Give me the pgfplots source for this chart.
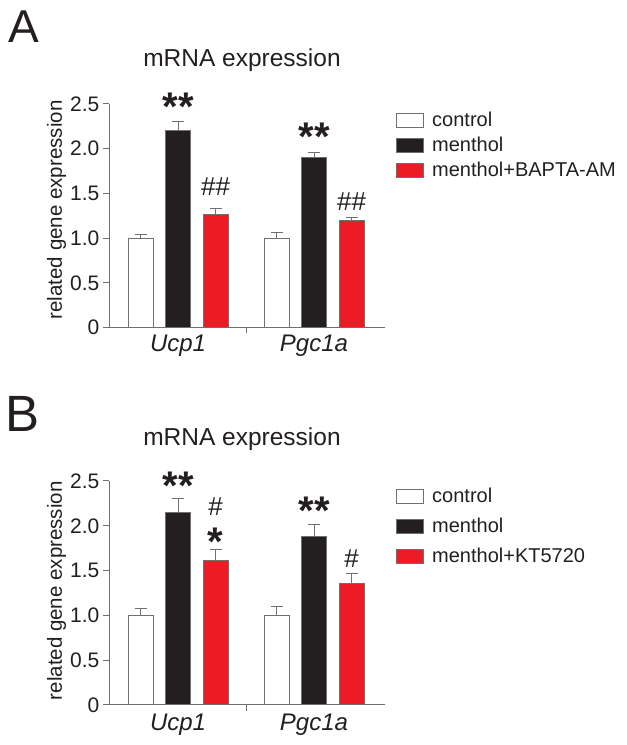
\documentclass[border=0pt]{standalone}
\usepackage{fontspec}
\setmainfont{Liberation Sans}
\usepackage{pgfplots}
\pgfplotsset{compat=1.18}
\definecolor{ink}{HTML}{231F20}
\definecolor{axgray}{HTML}{707070}
\definecolor{barred}{HTML}{ED1C24}
\definecolor{barblack}{HTML}{231F20}

\pgfplotsset{
  panel/.style={
    scale only axis, width=275.5pt,
    xmin=-0.504, xmax=1.522, ymin=0, ymax=2.5,
    axis x line=bottom, axis y line=left,
    axis line style={axgray, line width=1pt, -},
    ytick={0,0.5,1,1.5,2,2.5}, yticklabels={0,0.5,1.0,1.5,2.0,2.5},
    xtick={0.5}, xticklabels={},
    tick align=outside, major tick length=6pt,
    tick style={axgray, line width=1pt},
    /pgf/number format/assume math mode=true,
    yticklabel style={font=\fontsize{21}{25}\selectfont, text=ink, inner sep=4pt},
    clip=false,
    legend image code/.code={\draw[#1] (0pt,-7pt) rectangle (27pt,7pt);},
    legend cell align=left,
    legend style={draw=none, fill=none, anchor=north west, at={(1,1)},
      xshift=11pt, yshift=-6pt, font=\fontsize{20}{24}\selectfont, text=ink,
      inner sep=0pt, column sep=6pt, row sep=5pt},
    ylabel={related gene expression},
    ylabel style={font=\fontsize{20.5}{24}\selectfont, text=ink, anchor=center},
  },
  errs/.style={error bars/.cd, y dir=plus, y explicit,
    error bar style={axgray, line width=1pt},
    error mark options={axgray, line width=1pt, mark size=6pt, rotate=90}},
  ctrl/.style={ybar, bar width=25pt, bar shift=0pt, fill=white, draw=axgray, line width=1pt, errs},
  menth/.style={ybar, bar width=25pt, bar shift=0pt, fill=barblack, draw=axgray, line width=1pt, errs},
  redb/.style={ybar, bar width=25pt, bar shift=0pt, fill=barred, draw=axgray, line width=1pt, errs},
}

\begin{document}
\begin{tikzpicture}
\path[use as bounding box] (0pt,0pt) rectangle (627pt,745pt);

% ---------------- Panel A ----------------
\begin{axis}[panel, at={(109.5pt,417.5pt)}, anchor=south west, height=223.5pt,
  ylabel style={at={(axis description cs:-0.192,0.526)}}]
\addplot[ctrl] coordinates {(-0.2757,1.0) +- (0,0.04) (0.7243,1.0) +- (0,0.06)};
\addplot[menth] coordinates {(0,2.205) +- (0,0.095) (1,1.90) +- (0,0.055)};
\addplot[redb] coordinates {(0.2757,1.265) +- (0,0.065) (1.2757,1.196) +- (0,0.037)};
\legend{control,menthol,menthol+BAPTA-AM}
\node[anchor=base, font=\fontsize{40}{44}\selectfont\bfseries, text=ink] at (axis cs:0,2.31) {**};
\node[anchor=base, font=\fontsize{40}{44}\selectfont\bfseries, text=ink] at (axis cs:1,1.98) {**};
\node[anchor=base, font=\fontsize{26}{30}\selectfont, text=ink] at (axis cs:0.2757,1.48) {\#\#};
\node[anchor=base, font=\fontsize{26}{30}\selectfont, text=ink] at (axis cs:1.2757,1.31) {\#\#};
\node[anchor=base, font=\fontsize{24}{28}\selectfont\itshape, text=ink, yshift=-24.5pt] at (axis cs:0,0) {Ucp1};
\node[anchor=base, font=\fontsize{24}{28}\selectfont\itshape, text=ink, yshift=-24.5pt] at (axis cs:1,0) {Pgc1a};
\node[anchor=base, font=\fontsize{24.5}{28}\selectfont, text=ink] at (axis description cs:0.481,1.17) {mRNA expression};
\node[anchor=base west, inner sep=0pt, font=\fontsize{46}{50}\selectfont, text=ink] at (axis description cs:-0.368,1.273) {A};
\end{axis}

% ---------------- Panel B ----------------
\begin{axis}[panel, at={(109.5pt,40pt)}, anchor=south west, height=224pt,
  ylabel style={at={(axis description cs:-0.192,0.51)}},
  legend style={row sep=10pt, yshift=1pt}]
\addplot[ctrl] coordinates {(-0.2757,1.0) +- (0,0.08) (0.7243,1.0) +- (0,0.10)};
\addplot[menth] coordinates {(0,2.15) +- (0,0.15) (1,1.875) +- (0,0.145)};
\addplot[redb] coordinates {(0.2757,1.61) +- (0,0.13) (1.2757,1.355) +- (0,0.11)};
\legend{control,menthol,menthol+KT5720}
\node[anchor=base, font=\fontsize{40}{44}\selectfont\bfseries, text=ink] at (axis cs:0,2.29) {**};
\node[anchor=base, font=\fontsize{40}{44}\selectfont\bfseries, text=ink] at (axis cs:1,2.02) {**};
\node[anchor=base, font=\fontsize{26}{30}\selectfont, text=ink] at (axis cs:0.2757,2.11) {\#};
\node[anchor=base, font=\fontsize{40}{44}\selectfont\bfseries, text=ink] at (axis cs:0.2757,1.67) {*};
\node[anchor=base, font=\fontsize{26}{30}\selectfont, text=ink] at (axis cs:1.2757,1.53) {\#};
\node[anchor=base, font=\fontsize{24}{28}\selectfont\itshape, text=ink, yshift=-25pt] at (axis cs:0,0) {Ucp1};
\node[anchor=base, font=\fontsize{24}{28}\selectfont\itshape, text=ink, yshift=-25pt] at (axis cs:1,0) {Pgc1a};
\node[anchor=base, font=\fontsize{24.5}{28}\selectfont, text=ink] at (axis description cs:0.481,1.16) {mRNA expression};
\node[anchor=base west, inner sep=0pt, font=\fontsize{51}{55}\selectfont, text=ink] at (axis description cs:-0.38,1.219) {B};
\end{axis}
\end{tikzpicture}
\end{document}
